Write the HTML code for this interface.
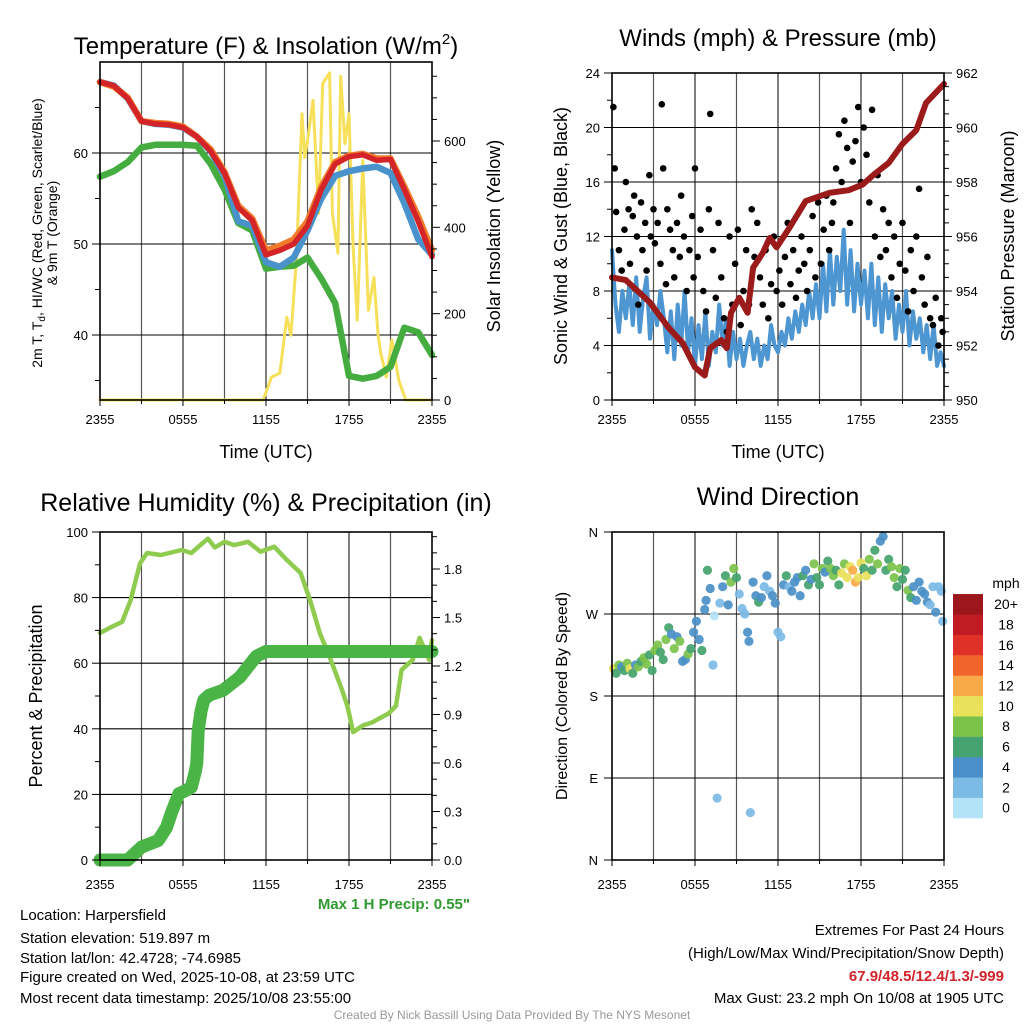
<!DOCTYPE html>
<html><head><meta charset="utf-8"><style>
html,body{margin:0;padding:0;background:#fff;}
svg{display:block;font-family:"Liberation Sans",Arial,sans-serif;}
</style></head><body>
<svg id="c" width="1024" height="1024" viewBox="0 0 1024 1024" xmlns="http://www.w3.org/2000/svg">
<rect width="1024" height="1024" fill="#fff"/>
<g id="grid"></g>
<g id="marks"></g>
<g id="frames"></g>
<g font-size="24" text-anchor="middle" fill="#000">
<text x="266" y="54">Temperature (F) &amp; Insolation (W/m<tspan font-size="15" dy="-10">2</tspan><tspan dy="10">)</tspan></text>
<text x="778" y="46">Winds (mph) &amp; Pressure (mb)</text>
<text x="266" y="511" font-size="25">Relative Humidity (%) &amp; Precipitation (in)</text>
<text x="778" y="505" font-size="25">Wind Direction</text>
</g>
<g font-size="18" text-anchor="middle" fill="#000">
<text x="266" y="458">Time (UTC)</text>
<text x="778" y="458">Time (UTC)</text>
<text transform="translate(500,236) rotate(-90)">Solar Insolation (Yellow)</text>
<text transform="translate(567,236) rotate(-90)">Sonic Wind &amp; Gust (Blue, Black)</text>
<text transform="translate(1014,236) rotate(-90)">Station Pressure (Maroon)</text>
<text transform="translate(42,696) rotate(-90)">Percent &amp; Precipitation</text>
<text transform="translate(567,696) rotate(-90)" font-size="16">Direction (Colored By Speed)</text>
</g>
<g font-size="14" text-anchor="middle" fill="#000">
<text transform="translate(42,233) rotate(-90)">2m T, T<tspan font-size="10" dy="3">d</tspan><tspan dy="-3">, HI/WC (Red, Green, Scarlet/Blue)</tspan></text>
<text transform="translate(57,233) rotate(-90)">&amp; 9m T (Orange)</text>
</g>
<g id="ticks" font-size="13" fill="#000"></g>
<g font-size="15" fill="#000">
<text x="20" y="920">Location: Harpersfield</text>
<text x="20" y="943">Station elevation: 519.897 m</text>
<text x="20" y="963">Station lat/lon: 42.4728; -74.6985</text>
<text x="20" y="982">Figure created on Wed, 2025-10-08, at 23:59 UTC</text>
<text x="20" y="1003">Most recent data timestamp: 2025/10/08 23:55:00</text>
<text x="470" y="909" text-anchor="end" font-weight="bold" font-size="15" fill="#2f9a2f">Max 1 H Precip: 0.55"</text>
<g text-anchor="end">
<text x="1004" y="935">Extremes For Past 24 Hours</text>
<text x="1004" y="958">(High/Low/Max Wind/Precipitation/Snow Depth)</text>
<text x="1004" y="981" font-weight="bold" fill="#d2232a">67.9/48.5/12.4/1.3/-999</text>
<text x="1004" y="1003">Max Gust: 23.2 mph On 10/08 at 1905 UTC</text>
</g>
<text x="512" y="1019" text-anchor="middle" font-size="12" fill="#999">Created By Nick Bassill Using Data Provided By The NYS Mesonet</text>
</g>
<g id="cbar"></g>
</svg>
<script>
// ---------- data ----------
const hourly = [0,1,2,3,4,5,6,7,8,9,10,11,12,13,14,15,16,17,18,19,20,21,22,23,24];
const tempT  = [67.8,67.4,66.0,63.5,63.2,63.1,62.8,61.8,60.2,57.8,54.0,52.6,48.8,49.3,50.0,52.0,56.0,58.8,59.6,59.8,59.2,59.3,56.0,52.5,48.6];
const tempTd = [57.4,58.0,59.0,60.6,60.9,60.9,60.9,60.8,58.8,56.0,52.3,51.5,47.3,47.5,47.6,48.5,46.2,43.5,35.5,35.2,35.5,36.5,40.8,40.3,37.8];
const tempHI = [67.8,67.4,66.0,63.5,63.2,63.1,62.8,61.8,60.2,57.5,52.5,52.0,48.0,47.5,48.5,51.5,55.0,57.5,58.0,58.3,58.5,57.8,54.5,50.5,48.8];
const temp9m = [67.8,67.3,66.1,63.5,63.3,63.2,62.9,61.8,60.4,57.9,54.2,52.8,49.3,49.8,50.5,52.5,56.3,59.0,59.7,59.9,59.4,59.4,56.3,53.0,49.3];
const solarHours = [0,11.8,12.4,13.0,13.5,13.8,14.2,14.6,14.8,15.0,15.4,15.8,16.1,16.6,16.8,17.2,17.4,17.7,18.0,18.3,18.6,19.0,19.4,19.8,20.1,20.3,20.7,21.1,21.6,22.1,24];
const solarVals  = [0,0,53,62,192,150,324,663,562,600,694,432,733,758,432,340,750,594,663,354,185,555,208,284,150,108,53,139,46,0,0];
const windVals = [11,7,5,8, 6,8.5,5.5,9, 5,7.5,9,4.5, 7,5.5,8,6, 3.5,6.5,3,7, 4,8,3.5,6, 2.5,5.5,3,6.5, 2.5,5,3.5,7, 4,6,2.5,5, 3,4.5,2.5,4, 5,3,4.5,2.5, 4,3,5.5,4, 3.5,5,4,6, 4.5,6.5,5,7, 5.5,8,6,8.5, 6,10,6.5,11, 7,10.5,8,12.5, 7,11,6.5,10, 7,9.5,6,10, 5.5,9,5,8.5, 6,8,4.5,7, 5,8,4,6.5, 4.5,6,3.5,5.5, 3,5.5,2.5,3.5,2.5];
const gustHours = [0.1,0.2,0.3,0.5,0.7,0.9,1.0,1.2,1.3,1.5, 1.6,1.8,1.9,2.1,2.2,2.4,2.5,2.7,2.8,3.0, 3.1,3.3,3.5,3.6,3.7,3.9,4.0,4.2,4.4,4.5, 4.7,4.9,5.0,5.2,5.4,5.6,5.8,5.9,6.0,6.2, 6.4,6.6,6.8,7.0,7.1,7.3,7.5,7.7,7.9,8.1, 8.3,8.5,8.7,8.9,9.1,9.3,9.5,9.7,9.9,10.1, 10.3,10.5,10.7,10.9,11.1,11.3,11.5,11.7,11.9,12.1, 12.3,12.5,12.7,12.9,13.1,13.3,13.5,13.7,13.9,14.1, 14.3,14.5,14.7,14.9,15.1,15.3,15.5,15.7,15.9,16.0, 16.2,16.4,16.6,16.8,17.0,17.2,17.4,17.6,17.8,18.0, 18.2,18.4,18.6,18.8,19.0,19.2,19.4,19.6,19.8,20.0, 20.2,20.4,20.6,20.8,21.0,21.2,21.4,21.6,21.8,22.0, 22.2,22.4,22.6,22.8,23.0,23.2,23.4,23.6,23.8,23.9];
const gustVals = [21.5,17,13.8,11,9.5,12.5,16,14,10,13.5, 15,12,7,14.5,11,13,9.5,16.5,12,14, 11.5,13,10,21.7,17,8.5,14,12.5,11,9, 13,10.5,15,12,8,11,13.5,9,17,10.5, 12.5,8,6.5,14,21,11,7.5,13,9,6, 5,12,7,10,12.5,5.5,8,11,7,14, 10.5,13,9,7,11,6,8.5,12,8,9.5, 7,10.5,13,8.5,11,7.5,9.5,12,10,8, 11,13.5,9,14.5,10,12.5,15,11,13,14.5, 17,19.5,16,20.5,18.5,13,17.5,19,21.5,16, 20,18,14.5,21.3,12,16.5,10.5,14,11,13, 9,12,7.5,10,13,9.5,6.5,11,8,12, 15.5,9,7,10.5,6,5.5,7.5,4,6,5];
const presHours = [0,1,2.7,4.1,5.1,6.0,6.7,7.1,7.9,8.3,8.6,9.2,9.8,10.2,10.9,11.4,11.9,12.8,14,15.7,17.1,18.1,19,20,21,22,22.7,24];
const presVals  = [954.5,954.4,953.6,952.65,952.1,951.2,950.9,951.9,952.2,951.9,953.2,953.75,953.2,954.85,955.4,955.95,955.6,956.3,957.3,957.6,957.7,957.9,958.3,958.7,959.4,959.9,960.9,961.6];
const rhHours = [0,0.8,1.6,2.2,2.9,3.4,4.4,5.9,6.6,7.8,8.3,9,9.7,10.7,11.6,12.6,13.5,14.5,15.2,15.9,16.5,17.5,17.9,18.3,19,19.7,20.9,21.4,21.8,22.6,23.1,23.8,24];
const rhVals  = [69.2,71,72.6,79,90.5,93.6,93,94.5,93.6,98,95.3,97,96,97,94,95.5,91.5,87.5,79,69,63,51.8,46.7,39,41,42,44.8,47,58,61,67.7,61,67];
const prHours = [0,2.0,2.5,3.0,3.6,4.2,4.8,5.2,5.7,6.2,6.6,6.9,7.0,7.05,7.1,7.3,7.5,7.9,8.9,10.1,11.3,12.0,24];
const prVals  = [0,0,0.04,0.08,0.1,0.12,0.2,0.3,0.41,0.43,0.45,0.55,0.6,0.7,0.8,0.92,0.99,1.02,1.05,1.13,1.26,1.29,1.29];
const dirHours = [0.1,0.3,0.5,0.7,0.9,1.1,1.3,1.5,1.7,1.9, 2.1,2.3,2.5,2.7,2.9,3.1,3.3,3.5,3.7,3.9, 4.1,4.3,4.5,4.7,4.9,5.1,5.3,5.5,5.7,5.9, 6.1,6.3,6.5,6.7,6.8,6.9,7.1,7.3,7.4,7.6, 7.8,8.0,8.2,8.4,8.6,8.8,9.0,9.2,9.4,9.6, 9.8,9.9,10.0,10.2,10.4,10.6,10.8,11.0,11.2,11.4, 11.6,11.8,12.0,12.2,12.4,12.6,12.8,13.0,13.2,13.4, 13.6,13.8,14.0,14.2,14.4,14.6,14.8,15.0,15.2,15.4, 15.6,15.8,16.0,16.2,16.4,16.6,16.8,17.0,17.2,17.4, 17.6,17.8,18.0,18.2,18.4,18.6,18.8,19.0,19.2,19.4, 19.6,19.8,20.0,20.2,20.4,20.6,20.8,21.0,21.2,21.4, 21.6,21.8,22.0,22.2,22.4,22.6,22.8,23.0,23.2,23.4, 23.6,23.8,23.9];
const dirDeg = [210,205,214,212,208,216,210,205,214,212, 218,222,215,225,208,230,236,228,220,242, 255,248,232,245,240,218,220,226,232,250, 262,242,230,275,285,318,298,214,268,68, 282,300,312,280,305,320,310,292,276,270, 250,240,52,305,290,283,288,300,312,295, 290,282,250,245,302,312,300,295,305,310, 290,312,318,302,308,325,310,302,320,316, 328,320,312,318,302,315,325,310,322,318, 305,310,326,320,312,330,318,340,325,350, 355,318,330,322,310,300,320,308,318,296, 288,300,285,305,295,292,283,280,300,272, 300,295,262];
const dirSpd = [10,7,8,5,7,9,10,7,5,8, 7,8,9,6,7,8,9,7,6,8, 7,5,8,4,9,4,5,8,7,5, 5,4,6,5,5,7,4,3,1,3, 2,4,6,4,9,8,6,3,2,3, 4,4,2,4,5,6,4,2,4,3, 5,4,3,2,4,6,3,5,4,4, 4,6,5,6,4,8,7,6,8,4, 7,9,8,7,6,10,8,10,11,12, 12,11,10,7,11,8,7,6,8,4, 4,6,7,8,8,6,8,7,6,8, 6,4,4,5,4,4,4,3,2,4, 3,2,2];
const xTickLabels = ["2355","0555","1155","1755","2355"];
const speedLabels = ["0","2","4","6","8","10","12","14","16","18","20+"];
const speedColors = ["#b3e3f7","#7cbbe6","#4a8fc7","#44a36e","#7bc24b","#e8e15a","#f7aa47","#f0652b","#df3127","#c11b24","#9b171b"];
const dirLabels = ["N","E","S","W","N"];

// ---------- helpers ----------
const NS="http://www.w3.org/2000/svg";
function mk(tag,attrs,parent){const e=document.createElementNS(NS,tag);for(const k in attrs)e.setAttribute(k,attrs[k]);(parent||document.getElementById('marks')).appendChild(e);return e;}
const P1={x0:100,x1:432,y0:62,y1:400,lab:24}, P2={x0:612,x1:944,y0:73,y1:400,lab:24}, P3={x0:100,x1:432,y0:532,y1:860,lab:29}, P4={x0:612,x1:944,y0:532,y1:860,lab:29};
function xs(P,h){return P.x0+(P.x1-P.x0)*h/24;}
function lin(d0,d1,r0,r1){return v=>r0+(v-d0)/(d1-d0)*(r1-r0);}
const yT=lin(40,60,335,153), yS=lin(0,600,400,141);
const yW=lin(0,24,400,73), yP=lin(950,962,400,73);
const yRH=lin(0,100,860,532), yPR=lin(0,1.8,860,569);
const yD=lin(0,360,860,532);
const grid=document.getElementById('grid'), ticks=document.getElementById('ticks'), frames=document.getElementById('frames');

function vgrid(P,name){for(let k=1;k<8;k++){const x=P.x0+(P.x1-P.x0)*k/8;
 const l=mk('line',{x1:x,x2:x,y1:P.y0,y2:P.y1,stroke:k%2?'#555':'#000','stroke-width':k%2?1.2:1},grid);
 
 }}
function hgrid(P,y,name){const l=mk('line',{x1:P.x0,x2:P.x1,y1:y,y2:y,stroke:'#000','stroke-width':1.1},grid);
 
 }
function tick(x1,y1,x2,y2){const l=mk('line',{x1,y1,x2,y2,stroke:'#000','stroke-width':1},ticks);
 
 }
function label(x,y,t,anchor,name){const e=mk('text',{x,y,'text-anchor':anchor},ticks);e.textContent=t;
 
 }
function frame(P,name){const r=mk('rect',{x:P.x0,y:P.y0,width:P.x1-P.x0,height:P.y1-P.y0,fill:'none',stroke:'#000','stroke-width':1.6},frames);
 
 
 for(let k=0;k<=8;k++){const x=P.x0+(P.x1-P.x0)*k/8;tick(x,P.y1,x,P.y1+(k%2?4:6));}
 xTickLabels.forEach((t,i)=>label(P.x0+(P.x1-P.x0)*i/4,P.y1+P.lab,t,'middle',name+'-x-tick-label'));}
function poly(xsArr,ysArr,stroke,w,name){const pts=xsArr.map((x,i)=>x.toFixed(1)+','+ysArr[i].toFixed(1)).join(' ');
 const p=mk('polyline',{points:pts,fill:'none',stroke,'stroke-width':w,'stroke-linejoin':'round','stroke-linecap':'round'});
 
 return p;}

// ---------- panel 1 ----------
vgrid(P1,'temp');
[40,50,60].forEach(v=>hgrid(P1,yT(v),'temp'));
[40,50,60].forEach(v=>{tick(P1.x0-8,yT(v),P1.x0,yT(v));label(P1.x0-12,yT(v)+5,String(v),'end','temp-y-tick-label');});
[35,45,55,65].forEach(v=>tick(P1.x0-5,yT(v),P1.x0,yT(v)));
for(let v=0;v<=750;v+=50){tick(P1.x1,yS(v),P1.x1+(v%200===0?8:5),yS(v));}
[0,200,400,600].forEach(v=>label(P1.x1+12,yS(v)+5,String(v),'start','solar-y-tick-label'));
poly(solarHours.map(h=>xs(P1,h)),solarVals.map(yS),'#f6e05a',3,'solar-insolation-line');
poly(hourly.map(h=>xs(P1,h)),tempTd.map(yT),'#45ad3f',6.5,'dewpoint-line');
poly(hourly.map(h=>xs(P1,h)),tempHI.map(yT),'#4a92cc',6.5,'windchill-line');
poly(hourly.map(h=>xs(P1,h)),temp9m.map(yT),'#f07b2a',6.5,'temp-9m-line');
poly(hourly.map(h=>xs(P1,h)),tempT.map(yT),'#d42428',5.5,'temp-2m-line');
frame(P1,'temp');

// ---------- panel 2 ----------
vgrid(P2,'wind');
[4,8,12,16,20].forEach(v=>hgrid(P2,yW(v),'wind'));
[0,4,8,12,16,20,24].forEach(v=>{tick(P2.x0-8,yW(v),P2.x0,yW(v));label(P2.x0-12,yW(v)+5,String(v),'end','wind-y-tick-label');});
for(let v=2;v<24;v+=4)tick(P2.x0-5,yW(v),P2.x0,yW(v));
for(let v=950;v<=962;v+=0.5)tick(P2.x1,yP(v),P2.x1+(v%2===0?8:5),yP(v));
[950,952,954,956,958,960,962].forEach(v=>label(P2.x1+12,yP(v)+5,String(v),'start','pressure-y-tick-label'));
poly(windVals.map((v,i)=>xs(P2,i*0.25)),windVals.map(yW),'#4e96d2',4,'sonic-wind-line');
gustHours.forEach((h,i)=>{const c=mk('circle',{cx:xs(P2,h),cy:yW(gustVals[i]),r:3.3,fill:'#000'});
 
 });
poly(presHours.map(h=>xs(P2,h)),presVals.map(yP),'#9b1b1b',6,'pressure-line');
frame(P2,'wind');

// ---------- panel 3 ----------
vgrid(P3,'rh');
[20,40,60,80].forEach(v=>hgrid(P3,yRH(v),'rh'));
[0,20,40,60,80,100].forEach(v=>{tick(P3.x0-8,yRH(v),P3.x0,yRH(v));label(P3.x0-12,yRH(v)+5,String(v),'end','rh-y-tick-label');});
for(let v=10;v<100;v+=20)tick(P3.x0-5,yRH(v),P3.x0,yRH(v));
for(let k=0;k<=20;k++){const v=k*0.1;tick(P3.x1,yPR(v),P3.x1+(k%3===0?8:5),yPR(v));}
["0.0","0.3","0.6","0.9","1.2","1.5","1.8"].forEach(t=>label(P3.x1+12,yPR(parseFloat(t))+5,t,'start','precip-y-tick-label'));
poly(rhHours.map(h=>xs(P3,h)),rhVals.map(yRH),'#8fcb4f',4.5,'humidity-line');
poly(prHours.map(h=>xs(P3,h)),prVals.map(yPR),'#4bb446',13,'precip-line');
frame(P3,'rh');

// ---------- panel 4 ----------
vgrid(P4,'dir');
[90,180,270].forEach(v=>hgrid(P4,yD(v),'dir'));
dirLabels.forEach((t,i)=>{const y=yD(i*90);tick(P4.x0-8,y,P4.x0,y);label(P4.x0-14,y+5,t,'end','direction-y-tick-label');});
dirHours.forEach((h,i)=>{const bin=Math.min(10,Math.floor(dirSpd[i]/2));
 const c=mk('circle',{cx:xs(P4,h),cy:yD(dirDeg[i]),r:4.6,fill:speedColors[bin],'fill-opacity':0.92});
 
 });
frame(P4,'dir');

// colorbar
const cb=document.getElementById('cbar');
const cbT=mk('text',{x:1006,y:588,'text-anchor':'middle','font-size':14},cb);cbT.textContent='mph';


speedColors.forEach((col,i)=>{const y=818-(i+1)*20.36;
 const r=mk('rect',{x:953,y:y,width:30,height:20.6,fill:col},cb);
 
 
 const t=mk('text',{x:1006,y:y+15,'text-anchor':'middle','font-size':14},cb);t.textContent=speedLabels[i];
 
 });
</script>
</body></html>
